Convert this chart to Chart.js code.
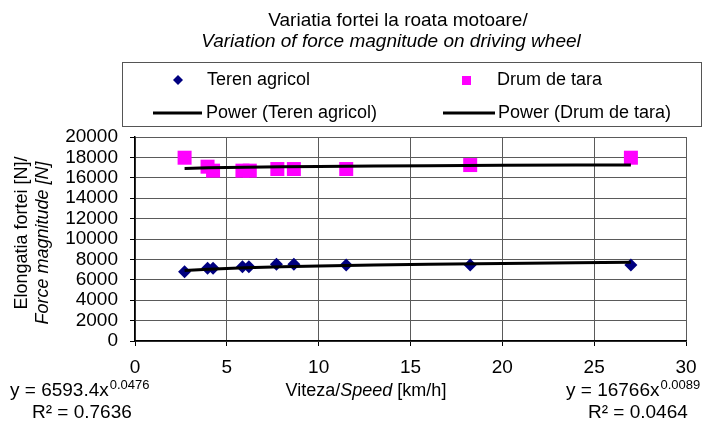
<!DOCTYPE html>
<html>
<head>
<meta charset="utf-8">
<script src="https://cdn.jsdelivr.net/npm/chart.js@4/dist/chart.umd.min.js"></script>
<style>
  html, body { margin: 0; padding: 0; background: #fff; }
  #wrap { width: 707px; height: 425px; position: relative; }
</style>
</head>
<body>
<div id="wrap"><canvas id="myChart"></canvas></div>
<script>
// speed [km/h] and force [N]
var terenSpeed = [2.7, 3.95, 4.25, 5.85, 6.2, 7.7, 8.65, 11.5, 18.25, 27.0];
var terenForce = [6800, 7130, 7130, 7290, 7290, 7520, 7520, 7450, 7450, 7450];
var drumSpeed = [2.7, 3.95, 4.25, 5.85, 6.25, 7.75, 8.65, 11.5, 18.25, 27.0];
var drumForce = [17970, 17090, 16700, 16700, 16700, 16860, 16860, 16860, 17250, 17970];
// power trend lines (Excel fit shown in the picture)
var trendSpeed = [2.7, 4, 6, 8, 10, 13, 16, 20, 24, 27];
var terenTrend = [6912, 7043, 7180, 7279, 7357, 7450, 7524, 7604, 7670, 7713];
var drumTrend = [16915, 16974, 17036, 17079, 17113, 17153, 17185, 17219, 17247, 17265];
var xTicks = [0, 5, 10, 15, 20, 25, 30];
var yTicks = [0, 2000, 4000, 6000, 8000, 10000, 12000, 14000, 16000, 18000, 20000];

var FONT = "'Liberation Sans', Arial, sans-serif";

function pts(xs, ys) {
  return xs.map((x, i) => ({ x: x, y: ys[i] }));
}

// title, legend box, axis titles and equations
var overlay = {
  id: 'overlay',
  afterDraw(chart) {
    var c = chart.ctx;
    var ds = chart.data.datasets;
    c.save();
    c.fillStyle = '#000';
    c.textBaseline = 'middle';

    c.textAlign = 'center';
    c.font = '19px ' + FONT;
    c.fillText('Variatia fortei la roata motoare/', 398, 21);
    c.font = 'italic 19px ' + FONT;
    c.fillText('Variation of force magnitude on driving wheel', 391, 42);

    // legend
    c.strokeStyle = '#555';
    c.lineWidth = 1;
    c.strokeRect(122.5, 62.5, 579, 64);
    c.textAlign = 'left';
    c.font = '18px ' + FONT;
    c.fillStyle = ds[2].backgroundColor;
    c.beginPath();
    c.moveTo(178, 75); c.lineTo(183, 80); c.lineTo(178, 85); c.lineTo(173, 80);
    c.closePath(); c.fill();
    c.fillStyle = ds[3].backgroundColor;
    c.fillRect(462, 76, 9, 9);
    c.fillStyle = '#000';
    c.fillText(ds[2].label, 207, 80);
    c.fillText(ds[3].label, 497, 80);
    c.strokeStyle = '#000';
    c.lineWidth = 3;
    c.beginPath();
    c.moveTo(153, 113); c.lineTo(202, 113);
    c.moveTo(443, 113); c.lineTo(495, 113);
    c.stroke();
    c.fillText(ds[0].label, 206, 113);
    c.fillText(ds[1].label, 498, 113);

    // y axis title
    c.textAlign = 'center';
    c.save();
    c.translate(22, 233);
    c.rotate(-Math.PI / 2);
    c.font = '18px ' + FONT;
    c.fillText('Elongatia fortei [N]/', 0, 0);
    c.restore();
    c.save();
    c.translate(43, 243);
    c.rotate(-Math.PI / 2);
    c.font = 'italic 18px ' + FONT;
    c.fillText('Force magnitude [N]', 0, 0);
    c.restore();

    // x axis title
    c.textAlign = 'left';
    var parts = [['', 'Viteza/'], ['italic ', 'Speed'], ['', ' [km/h]']];
    var total = 0;
    parts.forEach(p => { c.font = p[0] + '18px ' + FONT; total += c.measureText(p[1]).width; });
    var px = 366 - total / 2;
    parts.forEach(p => {
      c.font = p[0] + '18px ' + FONT;
      c.fillText(p[1], px, 391);
      px += c.measureText(p[1]).width;
    });

    // trend equations
    function eq(x, y, base, sup, r2) {
      c.textAlign = 'left';
      c.font = '19px ' + FONT;
      c.fillText(base, x, y);
      var w = c.measureText(base).width;
      c.font = '13px ' + FONT;
      c.fillText(sup, x + w + 1, y - 6);
      c.font = '19px ' + FONT;
      c.fillText(r2, x + 22, y + 22);
    }
    eq(10, 391, 'y = 6593.4x', '0.0476', 'R\u00b2 = 0.7636');
    eq(566, 391, 'y = 16766x', '0.0089', 'R\u00b2 = 0.0464');
    c.restore();
  }
};

var ctx = document.getElementById('myChart').getContext('2d');
var myChart = new Chart(ctx, {
  type: 'scatter',
  data: {
    datasets: [
      {
        label: 'Power (Teren agricol)',
        data: pts(trendSpeed, terenTrend),
        showLine: true,
        borderColor: '#000',
        borderWidth: 3,
        pointRadius: 0,
        tension: 0,
        order: 0
      },
      {
        label: 'Power (Drum de tara)',
        data: pts(trendSpeed, drumTrend),
        showLine: true,
        borderColor: '#000',
        borderWidth: 3,
        pointRadius: 0,
        tension: 0,
        order: 0
      },
      {
        label: 'Teren agricol',
        data: pts(terenSpeed, terenForce),
        pointStyle: 'rectRot',
        pointRadius: 6.5,
        backgroundColor: '#000080',
        borderColor: '#000080',
        borderWidth: 0,
        order: 1
      },
      {
        label: 'Drum de tara',
        data: pts(drumSpeed, drumForce),
        pointStyle: 'rect',
        pointRadius: 9.9,
        backgroundColor: '#ff00ff',
        borderColor: '#ff00ff',
        borderWidth: 0,
        order: 1
      }
    ]
  },
  options: {
    responsive: true,
    maintainAspectRatio: false,
    animation: false,
    layout: { padding: { top: 137, right: 21, left: 0, bottom: 0 } },
    plugins: {
      legend: { display: false },
      title: { display: false },
      tooltip: { enabled: false }
    },
    scales: {
      x: {
        type: 'linear',
        min: 0,
        max: 30,
        afterBuildTicks: s => { s.ticks = xTicks.map(v => ({ value: v })); },
        afterFit: s => { s.height = 84; },
        grid: { color: '#5a5a5a', lineWidth: 1, tickLength: 5, tickColor: '#000' },
        border: { color: '#000', width: 1.5 },
        ticks: { color: '#000', padding: 10, autoSkip: false, maxRotation: 0,
                 callback: v => String(v), font: { family: FONT, size: 19 } }
      },
      y: {
        type: 'linear',
        min: 0,
        max: 20000,
        afterBuildTicks: s => { s.ticks = yTicks.map(v => ({ value: v })); },
        afterFit: s => { s.width = 135; },
        grid: { color: '#5a5a5a', lineWidth: 1, tickLength: 5, tickColor: '#000' },
        border: { color: '#000', width: 1.5 },
        ticks: { color: '#000', padding: 12, autoSkip: false,
                 callback: v => String(v), font: { family: FONT, size: 19 } }
      }
    }
  },
  plugins: [overlay]
});
</script>
</body>
</html>
